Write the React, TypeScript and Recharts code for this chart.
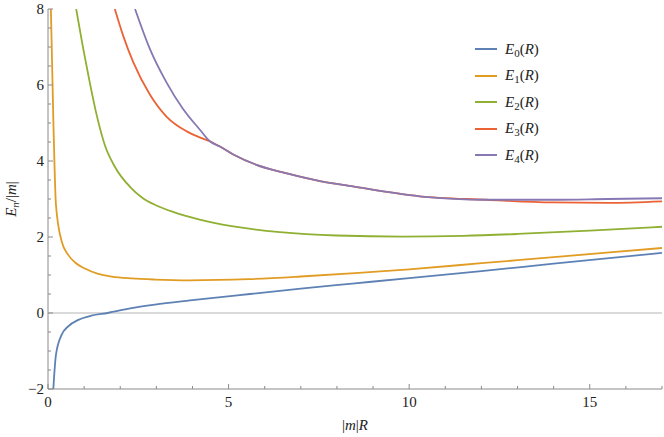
import React from 'react';
import { LineChart, Line, XAxis, YAxis, ReferenceLine, Legend } from 'recharts';

// E0(R)
const r0 = [0.147, 0.22, 0.38, 0.56, 0.84, 1.2, 1.65, 2.27, 2.96, 3.93, 5.59, 7, 8.5, 10, 12, 14, 17];
const e0 = [-2, -1.1, -0.57, -0.35, -0.18, -0.07, 0, 0.12, 0.22, 0.33, 0.5, 0.64, 0.78, 0.92, 1.1, 1.3, 1.58];

// E1(R)
const r1 = [0.08, 0.15, 0.22, 0.38, 0.56, 0.75, 1.02, 1.39, 1.76, 2.32, 2.96, 3.9, 5.55, 7, 8.5, 10, 12, 14, 17];
const e1 = [8, 5.0, 2.85, 1.88, 1.53, 1.33, 1.17, 1.03, 0.96, 0.91, 0.88, 0.86, 0.89, 0.96, 1.05, 1.15, 1.31, 1.47, 1.71];

// E2(R)
const r2 = [0.78, 0.98, 1.16, 1.35, 1.58, 1.85, 2.29, 2.6, 3.0, 3.5, 4.2, 5.13, 6.42, 8, 9.8, 11.5, 13, 15, 17];
const e2 = [8, 6.93, 6.05, 5.2, 4.4, 3.85, 3.3, 3.04, 2.83, 2.65, 2.46, 2.28, 2.13, 2.04, 2.01, 2.03, 2.08, 2.17, 2.27];

// E3(R)
const r3 = [1.85, 2.08, 2.36, 2.82, 3.28, 3.84, 4.2, 4.48, 4.76, 5.13, 5.77, 6.5, 7.5, 8.44, 10.29, 12.14, 13.97, 15.5, 17];
const e3 = [8, 7.3, 6.6, 5.75, 5.17, 4.78, 4.62, 4.52, 4.38, 4.17, 3.9, 3.7, 3.48, 3.33, 3.07, 2.98, 2.91, 2.9, 2.94];

// E4(R)
const r4 = [2.41, 2.82, 3.28, 3.74, 4.2, 4.48, 4.76, 5.13, 5.77, 6.5, 7.5, 8.44, 10.29, 12.14, 13.97, 15.5, 17];
const e4 = [8, 6.95, 6.07, 5.37, 4.83, 4.52, 4.38, 4.17, 3.9, 3.7, 3.48, 3.33, 3.07, 2.98, 2.98, 3.0, 3.02];

const xTicks = [0, 1, 2, 3, 4, 5, 6, 7, 8, 9, 10, 11, 12, 13, 14, 15, 16, 17];
const xLabels = [0, 5, 10, 15];
const yTicks = [-2, -1.5, -1, -0.5, 0, 0.5, 1, 1.5, 2, 2.5, 3, 3.5, 4, 4.5, 5, 5.5, 6, 6.5, 7, 7.5, 8];
const yLabels = [-2, 0, 2, 4, 6, 8];

const colors = ['#5e81b5', '#e19c24', '#8fb032', '#eb6235', '#8778b3'];

const series = [
  { name: '0', data: r0.map((r, i) => ({ r, e: e0[i] })) },
  { name: '1', data: r1.map((r, i) => ({ r, e: e1[i] })) },
  { name: '2', data: r2.map((r, i) => ({ r, e: e2[i] })) },
  { name: '3', data: r3.map((r, i) => ({ r, e: e3[i] })) },
  { name: '4', data: r4.map((r, i) => ({ r, e: e4[i] })) },
];

const FRAME = '#8a8a8a';
const FONT = "'Liberation Serif', 'Times New Roman', 'DejaVu Serif', serif";
const M = 4; // tickMargin

const fmt = (v: number) => (v < 0 ? `\u2212${-v}` : `${v}`);

const BottomTick = (props: any) => {
  const { x, y, payload } = props;
  const v = payload.value;
  const major = xLabels.includes(v);
  const y0 = y - M;
  return (
    <g>
      <line x1={x} x2={x} y1={y0} y2={y0 - (major ? 5 : 3)} stroke={FRAME} />
      {major && (
        <text x={x} y={y0 + 18} textAnchor="middle" style={{ fontFamily: FONT }} fontSize={15} fill="#222">
          {v}
        </text>
      )}
    </g>
  );
};

const TopTick = (props: any) => {
  const { x, y, payload } = props;
  const major = xLabels.includes(payload.value);
  const y0 = y + M;
  return <line x1={x} x2={x} y1={y0} y2={y0 + (major ? 5 : 3)} stroke={FRAME} />;
};

const LeftTick = (props: any) => {
  const { x, y, payload } = props;
  const v = payload.value;
  const major = yLabels.includes(v);
  const x0 = x + M;
  return (
    <g>
      <line x1={x0} x2={x0 + (major ? 5 : 3)} y1={y} y2={y} stroke={FRAME} />
      {major && (
        <text x={x0 - 4} y={y + 5} textAnchor="end" style={{ fontFamily: FONT }} fontSize={15} fill="#222">
          {fmt(v)}
        </text>
      )}
    </g>
  );
};

const RightTick = (props: any) => {
  const { x, y, payload } = props;
  const major = yLabels.includes(payload.value);
  const x0 = x - M;
  return <line x1={x0} x2={x0 - (major ? 5 : 3)} y1={y} y2={y} stroke={FRAME} />;
};

const YLabel = (props: any) => {
  const { viewBox } = props;
  const cx = viewBox.x + 16;
  const cy = viewBox.y + viewBox.height / 2;
  return (
    <text
      x={cx}
      y={cy}
      transform={`rotate(-90 ${cx} ${cy})`}
      textAnchor="middle"
      style={{ fontFamily: FONT }}
      fontSize={15}
      fill="#222"
    >
      <tspan fontStyle="italic">E</tspan>
      <tspan fontStyle="italic" fontSize={11} dy={3}>n</tspan>
      <tspan dy={-3}>/|</tspan>
      <tspan fontStyle="italic">m</tspan>
      <tspan>|</tspan>
    </text>
  );
};

const XLabel = (props: any) => {
  const { viewBox } = props;
  const cx = viewBox.x + viewBox.width / 2;
  const cy = viewBox.y + 41;
  return (
    <text x={cx} y={cy} textAnchor="middle" style={{ fontFamily: FONT }} fontSize={15} fill="#222">
      <tspan>|</tspan>
      <tspan fontStyle="italic">m</tspan>
      <tspan>|</tspan>
      <tspan fontStyle="italic">R</tspan>
    </text>
  );
};

const renderLegend = () => (
  <div style={{ fontFamily: FONT, fontSize: 15, color: '#222' }}>
    {series.map((s, i) => (
      <div key={s.name} style={{ display: 'flex', alignItems: 'center', height: 26.5 }}>
        <svg width={22} height={4} style={{ marginRight: 8 }}>
          <line x1={0} x2={22} y1={2} y2={2} stroke={colors[i]} strokeWidth={2} />
        </svg>
        <span>
          <i>E</i>
          <sub style={{ fontSize: 11, verticalAlign: '-3px', lineHeight: 0 }}>{s.name}</sub>
          (<i>R</i>)
        </span>
      </div>
    ))}
  </div>
);

export default function App() {
  return (
    <div style={{ position: 'absolute', left: 0, top: 0, width: 664, height: 437, background: '#fff' }}>
      <LineChart width={664} height={437} margin={{ top: 9, right: 2, bottom: 0, left: 0 }}>
        <XAxis
          xAxisId="b"
          type="number"
          dataKey="r"
          domain={[0, 17]}
          ticks={xTicks}
          interval={0}
          allowDataOverflow
          height={48}
          tickSize={0}
          tickMargin={M}
          tick={<BottomTick />}
          axisLine={{ stroke: FRAME }}
          label={<XLabel />}
        />
        <XAxis
          xAxisId="t"
          orientation="top"
          type="number"
          dataKey="r"
          domain={[0, 17]}
          ticks={xTicks}
          interval={0}
          allowDataOverflow
          height={0}
          tickSize={0}
          tickMargin={M}
          tick={<TopTick />}
          axisLine={{ stroke: FRAME }}
        />
        <YAxis
          yAxisId="l"
          type="number"
          domain={[-2, 8]}
          ticks={yTicks}
          interval={0}
          allowDataOverflow
          width={48}
          tickSize={0}
          tickMargin={M}
          tick={<LeftTick />}
          axisLine={{ stroke: FRAME }}
          label={<YLabel />}
        />
        <YAxis
          yAxisId="r"
          orientation="right"
          type="number"
          domain={[-2, 8]}
          ticks={yTicks}
          interval={0}
          allowDataOverflow
          width={0}
          tickSize={0}
          tickMargin={M}
          tick={<RightTick />}
          axisLine={{ stroke: FRAME }}
        />
        <ReferenceLine xAxisId="b" yAxisId="l" y={0} stroke="#b5b5b5" strokeWidth={1} />
        {series.map((s, i) => (
          <Line
            key={s.name}
            xAxisId="b"
            yAxisId="l"
            data={s.data}
            dataKey="e"
            type="monotone"
            stroke={colors[i]}
            strokeWidth={1.8}
            dot={false}
            activeDot={false}
            isAnimationActive={false}
          />
        ))}
        <Legend
          layout="vertical"
          align="center"
          verticalAlign="middle"
          content={renderLegend}
          wrapperStyle={{ left: 475, top: 36, width: 120 }}
        />
      </LineChart>
    </div>
  );
}
